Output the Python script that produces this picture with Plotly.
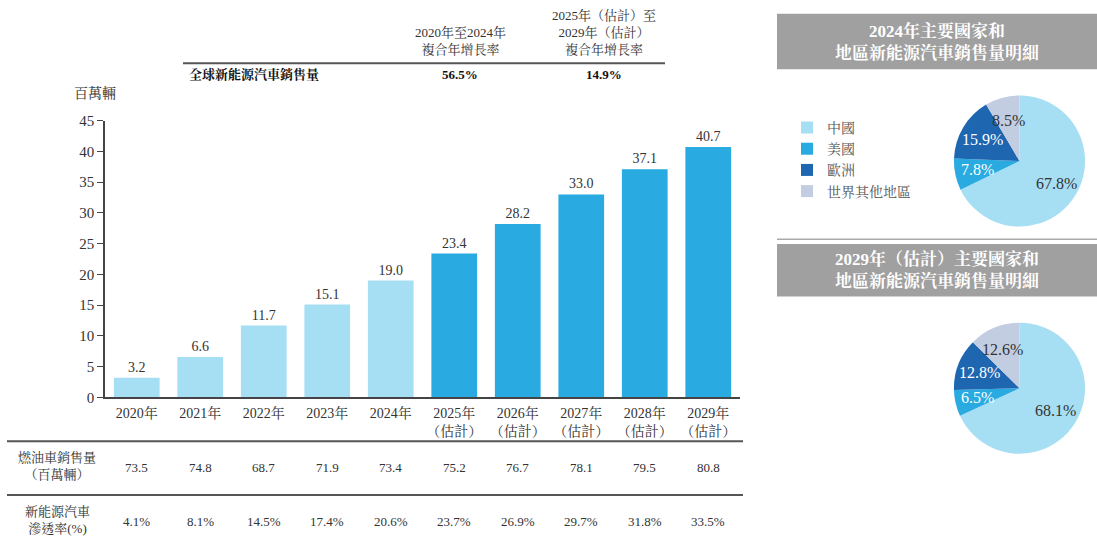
import math
import plotly.graph_objects as go

W, H = 1097, 557

# ---------------- data ----------------
years = ["2020年", "2021年", "2022年", "2023年", "2024年",
         "2025年", "2026年", "2027年", "2028年", "2029年"]
year_ticktext = ["2020年", "2021年", "2022年", "2023年", "2024年",
                 "2025年<br>（估計）", "2026年<br>（估計）", "2027年<br>（估計）",
                 "2028年<br>（估計）", "2029年<br>（估計）"]
nev_sales = [3.2, 6.6, 11.7, 15.1, 19.0, 23.4, 28.2, 33.0, 37.1, 40.7]
ice_sales = [73.5, 74.8, 68.7, 71.9, 73.4, 75.2, 76.7, 78.1, 79.5, 80.8]
nev_penetration = ["4.1%", "8.1%", "14.5%", "17.4%", "20.6%",
                   "23.7%", "26.9%", "29.7%", "31.8%", "33.5%"]
y_ticks = [0, 5, 10, 15, 20, 25, 30, 35, 40, 45]

cagr_row_label = "全球新能源汽車銷售量"
cagr_headers = ["2020年至2024年<br>複合年增長率",
                "2025年（估計）至<br>2029年（估計）<br>複合年增長率"]
cagr_values = ["56.5%", "14.9%"]

table_row1_label = "燃油車銷售量<br>（百萬輛）"
table_row2_label = "新能源汽車<br>滲透率(%)"
y_unit = "百萬輛"

regions = ["中國", "美國", "歐洲", "世界其他地區"]
share_2024 = [67.8, 7.8, 15.9, 8.5]
share_2029 = [68.1, 6.5, 12.8, 12.6]
pie_title_2024 = "2024年主要國家和<br>地區新能源汽車銷售量明細"
pie_title_2029 = "2029年（估計）主要國家和<br>地區新能源汽車銷售量明細"

# ---------------- styles ----------------
LIGHT = "#a6def3"
MID = "#29abe2"
DARK = "#1f66b0"
OTHER = "#c2cde1"
bar_colors = [LIGHT] * 5 + [MID] * 5
region_colors = [LIGHT, MID, DARK, OTHER]
slice_text_colors = ["#333333", "white", "white", "#333333"]
FONT = "Liberation Serif, 'Noto Serif CJK TC', 'Noto Sans CJK TC', serif"
TXT = "#333333"
PIE_R = 67.5
PIE_CENTERS = [(1019.5, 157.5), (1019.5, 391.5)]
LABEL_FRAC = 0.64


def px(x):
    return x / W


def py(y):
    return 1 - y / H


fig = go.Figure()

fig.add_trace(go.Bar(
    x=years, y=nev_sales, marker=dict(color=bar_colors, line=dict(width=0)),
    text=[f"{v:.1f}" for v in nev_sales], textposition="outside",
    textfont=dict(size=14, color=TXT, family=FONT), cliponaxis=False,
    showlegend=False, hoverinfo="skip"))


def pie_domain(cx, cy, r):
    return dict(x=[px(cx - r), px(cx + r)], y=[py(cy + r), py(cy - r)])


for shares, (cx, cy), leg in [(share_2024, PIE_CENTERS[0], "legend"),
                              (share_2029, PIE_CENTERS[1], "legend2")]:
    fig.add_trace(go.Pie(
        labels=regions, values=shares, sort=False, direction="clockwise",
        rotation=0, domain=pie_domain(cx, cy, PIE_R), legend=leg,
        marker=dict(colors=region_colors, line=dict(width=0)),
        textinfo="none", hoverinfo="skip"))

fig.update_layout(
    width=W, height=H, margin=dict(l=0, r=0, t=0, b=0),
    paper_bgcolor="white", plot_bgcolor="white",
    font=dict(family=FONT, color=TXT, size=14),
    bargap=0.28,
    xaxis=dict(domain=[px(105), px(740)], tickmode="array", tickvals=years,
               ticktext=year_ticktext, showline=True, linecolor="#444",
               linewidth=1.5, ticks="", showgrid=False, zeroline=False,
               tickfont=dict(size=14, color=TXT, family=FONT), ticklabelstandoff=2),
    yaxis=dict(domain=[py(401), py(116)], range=[0, 45], tickvals=y_ticks,
               showline=True, linecolor="#444", linewidth=1.5, ticks="outside",
               ticklen=6, tickcolor="#444", showgrid=False, zeroline=False,
               tickfont=dict(size=15, color=TXT, family=FONT)),
    legend=dict(x=px(787), y=py(107), xanchor="left", yanchor="top",
                font=dict(size=14, color="#555", family=FONT),
                bgcolor="rgba(0,0,0,0)", tracegroupgap=0, itemclick=False),
    legend2=dict(x=px(787), y=py(341), xanchor="left", yanchor="top",
                 font=dict(size=14, color="#555", family=FONT),
                 bgcolor="rgba(0,0,0,0)", tracegroupgap=0, itemclick=False),
)

shapes = []
# header rule
shapes.append(dict(type="line", xref="paper", yref="paper", x0=px(183), x1=px(665),
                   y0=py(57), y1=py(57), line=dict(color="#555", width=2)))
# table rules
for yy in (446, 501.5):
    shapes.append(dict(type="line", xref="paper", yref="paper", x0=px(7), x1=px(743),
                       y0=py(yy), y1=py(yy), line=dict(color="#555", width=2)))
# pie title boxes
for y0, y1 in ((6, 63), (243, 297)):
    shapes.append(dict(type="rect", xref="paper", yref="paper", x0=px(777), x1=px(1097),
                       y0=py(y1), y1=py(y0), fillcolor="#a0a0a0", line=dict(width=0),
                       layer="below"))
shapes.append(dict(type="line", xref="paper", yref="paper", x0=px(777), x1=px(1097),
                   y0=py(238), y1=py(238), line=dict(color="#aaa", width=1.5)))
fig.update_layout(shapes=shapes)

ann = []
# pie titles
for t, yc in ((pie_title_2024, 35), (pie_title_2029, 270)):
    ann.append(dict(text=f"<b>{t}</b>", xref="paper", yref="paper", x=px(937), y=py(yc),
                    xanchor="center", yanchor="middle", showarrow=False,
                    font=dict(size=17, color="white", family=FONT)))
# pie slice labels, placed at each slice's mid-angle (computed from the data)
for shares, (cx, cy) in zip((share_2024, share_2029), PIE_CENTERS):
    total = sum(shares)
    cum = 0.0
    for v, col in zip(shares, slice_text_colors):
        mid = (cum + v / 2) / total * 2 * math.pi
        cum += v
        lx = cx + PIE_R * LABEL_FRAC * math.sin(mid)
        ly = cy - PIE_R * LABEL_FRAC * math.cos(mid)
        ann.append(dict(text=f"{v:.1f}%", xref="paper", yref="paper", x=px(lx), y=py(ly),
                        xanchor="center", yanchor="middle", showarrow=False,
                        font=dict(size=16, color=col, family=FONT)))
# unit
ann.append(dict(text=y_unit, xref="paper", yref="paper", x=px(95), y=py(88),
                xanchor="center", yanchor="middle", showarrow=False,
                font=dict(size=14, color=TXT, family=FONT)))
# CAGR header
ann.append(dict(text=f"<b>{cagr_row_label}</b>", xref="paper", yref="paper", x=px(187),
                y=py(68), xanchor="left", yanchor="middle", showarrow=False,
                font=dict(size=13, color="#111", family=FONT)))
for h, v, xc in zip(cagr_headers, cagr_values, (460, 604)):
    ann.append(dict(text=h, xref="paper", yref="paper", x=px(xc), y=py(53),
                    xanchor="center", yanchor="bottom", showarrow=False,
                    font=dict(size=13, color=TXT, family=FONT)))
    ann.append(dict(text=f"<b>{v}</b>", xref="paper", yref="paper", x=px(xc), y=py(68),
                    xanchor="center", yanchor="middle", showarrow=False,
                    font=dict(size=13, color="#111", family=FONT)))
# table
ann.append(dict(text=table_row1_label, xref="paper", yref="paper", x=px(57), y=py(472),
                xanchor="center", yanchor="middle", showarrow=False,
                font=dict(size=13, color=TXT, family=FONT)))
ann.append(dict(text=table_row2_label, xref="paper", yref="paper", x=px(57), y=py(527),
                xanchor="center", yanchor="middle", showarrow=False,
                font=dict(size=13, color=TXT, family=FONT)))
for yr, v, p in zip(years, ice_sales, nev_penetration):
    ann.append(dict(text=f"{v:.1f}", xref="x", yref="paper", x=yr, y=py(473),
                    xanchor="center", yanchor="middle", showarrow=False,
                    font=dict(size=13, color=TXT, family=FONT)))
    ann.append(dict(text=p, xref="x", yref="paper", x=yr, y=py(529),
                    xanchor="center", yanchor="middle", showarrow=False,
                    font=dict(size=13, color=TXT, family=FONT)))
fig.update_layout(annotations=ann)

fig.write_html("out.html", config={"displayModeBar": False},
               post_script="document.body.style.margin='0px';")
